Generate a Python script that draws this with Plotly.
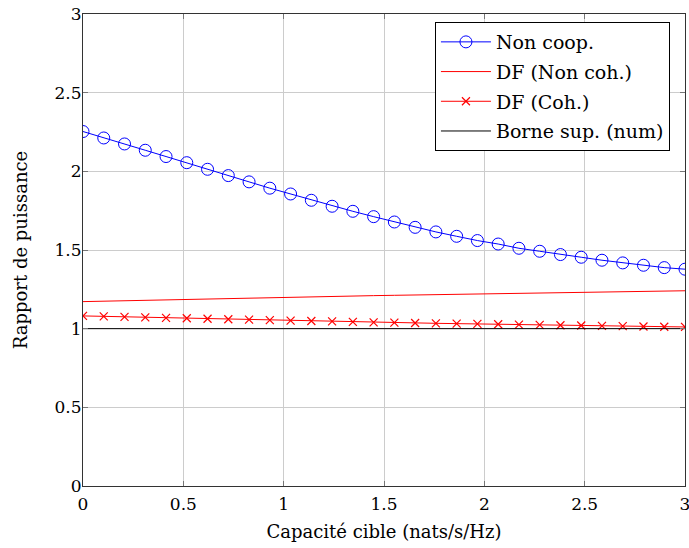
import numpy as np
import plotly.graph_objects as go

x = [round(3 * i / 29, 4) for i in range(30)]

non_coop = [2.253, 2.212, 2.174, 2.134, 2.094, 2.055, 2.013, 1.973, 1.933, 1.893,
            1.856, 1.816, 1.778, 1.746, 1.712, 1.678, 1.644, 1.615, 1.587, 1.560,
            1.538, 1.511, 1.492, 1.471, 1.454, 1.435, 1.418, 1.403, 1.388, 1.378]

df_noncoh = [1.172, 1.175, 1.178, 1.181, 1.184, 1.187, 1.190, 1.193, 1.195, 1.198,
             1.200, 1.203, 1.205, 1.207, 1.210, 1.212, 1.214, 1.216, 1.218, 1.220,
             1.222, 1.224, 1.226, 1.228, 1.230, 1.232, 1.234, 1.236, 1.238, 1.241]

df_coh = [1.081, 1.078, 1.075, 1.072, 1.069, 1.066, 1.063, 1.060, 1.057, 1.054,
          1.051, 1.049, 1.046, 1.043, 1.040, 1.038, 1.036, 1.034, 1.032, 1.030,
          1.028, 1.026, 1.024, 1.022, 1.020, 1.018, 1.016, 1.014, 1.012, 1.011]

borne = [1.0] * 30

xticks = [0, 0.5, 1, 1.5, 2, 2.5, 3]
yticks = [0, 0.5, 1, 1.5, 2, 2.5, 3]

FONT = "DejaVu Serif, serif"
FS = 17

fig = go.Figure()
fig.add_trace(go.Scatter(x=x, y=non_coop, mode="lines+markers", name="Non coop.",
                         legendgroup="a",
                         line=dict(color="#0000ff", width=1),
                         marker=dict(symbol="circle-open", size=12, color="#0000ff",
                                     line=dict(width=1, color="#0000ff"))))
fig.add_trace(go.Scatter(x=x, y=df_noncoh, mode="lines", name="DF (Non coh.)",
                         legendgroup="b",
                         line=dict(color="#ff0000", width=1)))
fig.add_trace(go.Scatter(x=x, y=df_coh, mode="lines+markers", name="DF (Coh.)",
                         legendgroup="c",
                         line=dict(color="#ff0000", width=1),
                         marker=dict(symbol="x-thin-open", size=8, color="#ff0000",
                                     line=dict(width=1.2, color="#ff0000"))))
fig.add_trace(go.Scatter(x=x, y=borne, mode="lines", name="Borne sup. (num)",
                         legendgroup="d",
                         line=dict(color="#000000", width=1)))

axis_common = dict(showgrid=True, gridcolor="#cccccc", gridwidth=1,
                   showline=True, linecolor="#333333", linewidth=1.2, mirror="allticks",
                   ticks="inside", ticklen=5, tickcolor="#777777", tickwidth=1,
                   zeroline=False, automargin=False, ticklabeloverflow="allow",
                   tickfont=dict(family=FONT, size=FS, color="#000000"))

fig.update_xaxes(range=[0, 3], tickvals=xticks, ticktext=[str(v) for v in xticks],
                 ticklabelstandoff=2,
                 title=dict(text="Capacité cible (nats/s/Hz)", font=dict(family=FONT, size=18, color="#000"),
                            standoff=12),
                 **axis_common)
fig.update_yaxes(range=[0, 3], tickvals=yticks, ticktext=[str(v) for v in yticks],
                 ticklabelstandoff=-3,
                 title=dict(text="Rapport de puissance", font=dict(family=FONT, size=18, color="#000"),
                            standoff=22),
                 **axis_common)

fig.update_layout(
    width=689, height=548,
    margin=dict(l=83, r=4, t=14, b=62, autoexpand=False),
    plot_bgcolor="white", paper_bgcolor="white",
    font=dict(family=FONT, size=FS, color="#000"),
    showlegend=True,
    legend=dict(x=0.975, y=0.983, xanchor="right", yanchor="top",
                bgcolor="white", bordercolor="#000000", borderwidth=1,
                font=dict(family=FONT, size=19), traceorder="grouped", tracegroupgap=2,
                itemwidth=50),
)

fig.write_html("out.html", config={"displayModeBar": False},
               post_script="document.body.style.margin='0';document.body.style.padding='0';")
